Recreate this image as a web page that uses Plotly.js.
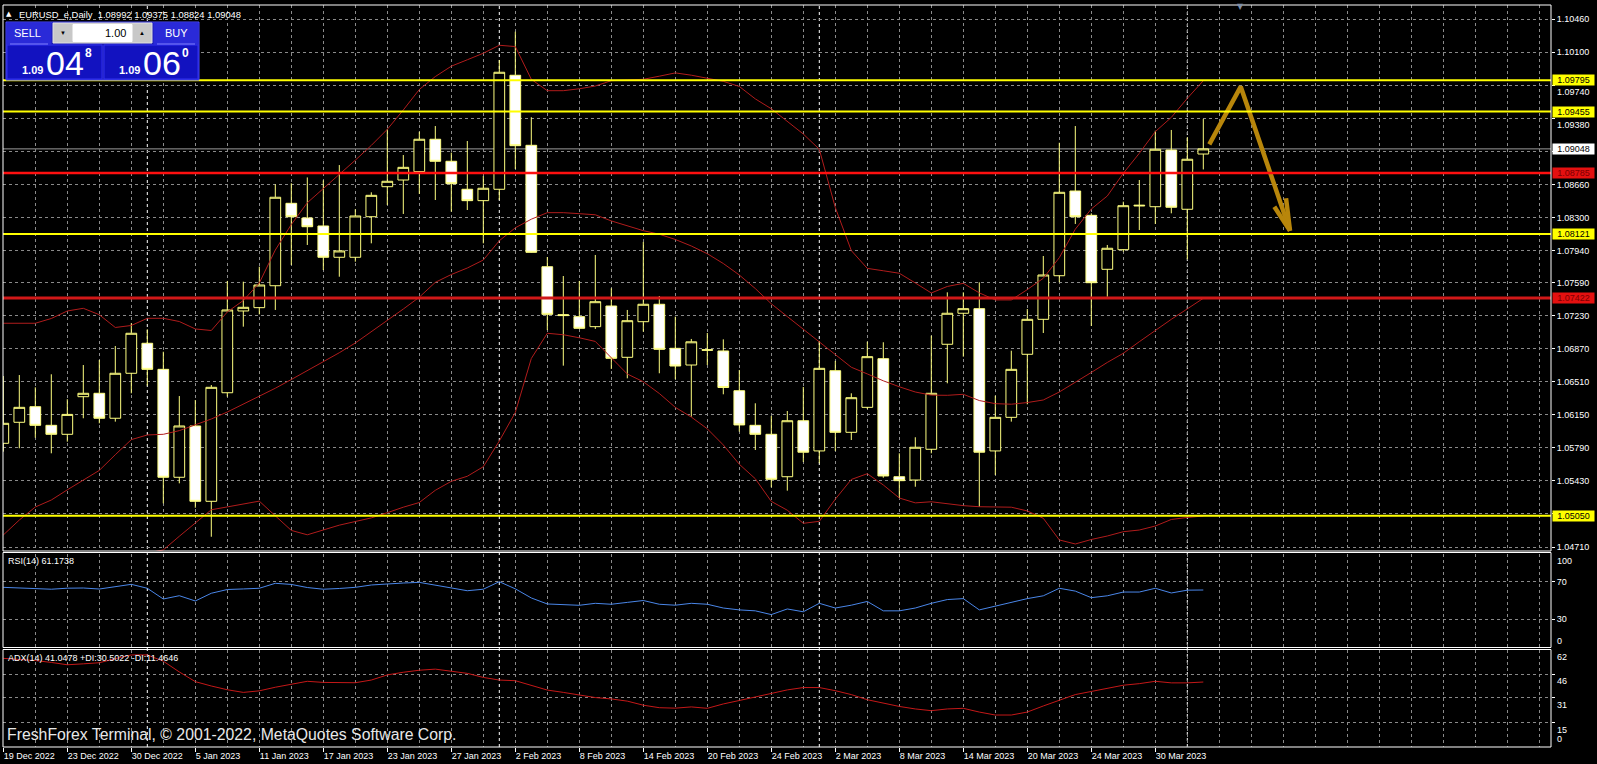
<!DOCTYPE html>
<html>
<head>
<meta charset="utf-8">
<script src="https://cdn.plot.ly/plotly-3.0.1.min.js"></script>
<style>
  html, body { margin: 0; padding: 0; background: #000; }
  #chart { width: 1597px; height: 764px; }
</style>
</head>
<body>
<div id="chart"></div>
<script>
// ---------------- DATA ----------------
const dates = [
  "19 Dec 2022","20 Dec 2022","21 Dec 2022","22 Dec 2022","23 Dec 2022","27 Dec 2022","28 Dec 2022","29 Dec 2022","30 Dec 2022",
  "2 Jan 2023","3 Jan 2023","4 Jan 2023","5 Jan 2023","6 Jan 2023","9 Jan 2023","10 Jan 2023","11 Jan 2023","12 Jan 2023","13 Jan 2023",
  "16 Jan 2023","17 Jan 2023","18 Jan 2023","19 Jan 2023","20 Jan 2023","23 Jan 2023","24 Jan 2023","25 Jan 2023","26 Jan 2023","27 Jan 2023",
  "30 Jan 2023","31 Jan 2023","1 Feb 2023","2 Feb 2023","3 Feb 2023","6 Feb 2023","7 Feb 2023","8 Feb 2023","9 Feb 2023","10 Feb 2023",
  "13 Feb 2023","14 Feb 2023","15 Feb 2023","16 Feb 2023","17 Feb 2023","20 Feb 2023","21 Feb 2023","22 Feb 2023","23 Feb 2023","24 Feb 2023",
  "27 Feb 2023","28 Feb 2023","1 Mar 2023","2 Mar 2023","3 Mar 2023","6 Mar 2023","7 Mar 2023","8 Mar 2023","9 Mar 2023","10 Mar 2023",
  "13 Mar 2023","14 Mar 2023","15 Mar 2023","16 Mar 2023","17 Mar 2023","20 Mar 2023","21 Mar 2023","22 Mar 2023","23 Mar 2023","24 Mar 2023",
  "27 Mar 2023","28 Mar 2023","29 Mar 2023","30 Mar 2023","31 Mar 2023","3 Apr 2023","4 Apr 2023"
];
const openP = [
  1.05840,1.06069,1.06239,1.06036,1.05938,1.06348,1.06385,1.06113,1.06603,1.06930,
  1.06646,1.05470,1.06029,1.05208,1.06391,1.07282,1.07318,1.07557,1.08455,1.08295,
  1.08208,1.07867,1.07867,1.08309,1.08636,1.08709,1.08800,1.09153,1.08913,1.08608,
  1.08484,1.08608,1.09850,1.09087,1.07764,1.07242,1.07220,1.07111,1.07336,1.06777,
  1.07165,1.07355,1.06875,1.06693,1.06860,1.06846,1.06413,1.06036,1.05938,1.05476,
  1.06086,1.05757,1.06631,1.05960,1.06232,1.06762,1.05476,1.05440,1.05775,1.06919,
  1.07257,1.07307,1.05757,1.06123,1.06810,1.07191,1.07666,1.08589,1.08324,1.07736,
  1.07950,1.08435,1.08418,1.09036,1.08390,1.08992
];
const highP = [
  1.06573,1.06584,1.06450,1.06592,1.06320,1.06693,1.06748,1.06900,1.07148,1.07082,
  1.06838,1.06355,1.06312,1.06475,1.07609,1.07601,1.07764,1.08662,1.08673,1.08737,
  1.08706,1.08872,1.08390,1.08575,1.09262,1.08981,1.09235,1.09297,1.09007,1.09134,
  1.08753,1.10017,1.10325,1.09393,1.07870,1.07663,1.07609,1.07892,1.07529,1.07293,
  1.08034,1.07445,1.07220,1.06977,1.07042,1.06973,1.06639,1.06276,1.06138,1.06192,
  1.06454,1.06955,1.06737,1.06385,1.06947,1.06941,1.05731,1.05906,1.07013,1.07485,
  1.07485,1.07594,1.06359,1.06849,1.07303,1.07881,1.09115,1.09297,1.08346,1.08001,
  1.08473,1.08709,1.09246,1.09254,1.09174,1.09375
];
const lowP = [
  1.05749,1.05786,1.05901,1.05731,1.05858,1.06113,1.06058,1.06076,1.06385,1.06468,
  1.05186,1.05404,1.05138,1.04822,1.06348,1.07111,1.07245,1.07293,1.07783,1.08001,
  1.07728,1.07655,1.07819,1.08019,1.08437,1.08339,1.08557,1.08491,1.08364,1.08382,
  1.08019,1.08491,1.08829,1.07917,1.07075,1.06686,1.07086,1.07086,1.06650,1.06548,
  1.07056,1.06603,1.06537,1.06130,1.06693,1.06374,1.05967,1.05767,1.05361,1.05324,
  1.05637,1.05623,1.05757,1.05876,1.06214,1.05465,1.05244,1.05367,1.05731,1.06494,
  1.06784,1.05149,1.05495,1.06076,1.06265,1.07042,1.07594,1.08230,1.07118,1.07437,
  1.07928,1.08164,1.08230,1.08346,1.07845,1.08824
];
const closeP = [
  1.06058,1.06232,1.06036,1.05938,1.06155,1.06385,1.06113,1.06603,1.07039,1.06646,
  1.05470,1.06029,1.05208,1.06450,1.07293,1.07322,1.07565,1.08521,1.08309,1.08200,
  1.07867,1.07936,1.08317,1.08542,1.08695,1.08847,1.09153,1.08913,1.08669,1.08484,
  1.08619,1.09883,1.09083,1.07921,1.07245,1.07232,1.07093,1.07383,1.06766,1.07176,
  1.07355,1.06864,1.06682,1.06946,1.06855,1.06448,1.06040,1.05938,1.05448,1.06086,
  1.05743,1.06657,1.05960,1.06337,1.06784,1.05484,1.05433,1.05797,1.06385,1.07257,
  1.07307,1.05743,1.06123,1.06646,1.07191,1.07674,1.08575,1.08309,1.07590,1.07965,
  1.08429,1.08428,1.09044,1.08412,1.08935,1.09048
];
const bbUpper = [
  1.07148,1.07148,1.07148,1.07200,1.07282,1.07311,1.07241,1.07102,1.07124,1.07202,
  1.07202,1.07167,1.07086,1.07069,1.07271,1.07396,1.07587,1.07946,1.08224,1.08461,
  1.08613,1.08768,1.08925,1.09086,1.09261,1.09472,1.09695,1.09836,1.09949,1.10019,
  1.10090,1.10177,1.10163,1.09806,1.09682,1.09682,1.09703,1.09733,1.09791,1.09799,
  1.09806,1.09840,1.09876,1.09851,1.09821,1.09784,1.09728,1.09593,1.09485,1.09352,
  1.09210,1.09044,1.08409,1.07940,1.07746,1.07720,1.07693,1.07587,1.07478,1.07549,
  1.07583,1.07479,1.07402,1.07402,1.07515,1.07638,1.07863,1.08173,1.08393,1.08535,
  1.08782,1.09000,1.09236,1.09391,1.09599,1.09791
];
const bbMiddle = [
  1.04841,1.05004,1.05146,1.05222,1.05333,1.05440,1.05545,1.05716,1.05880,1.05931,
  1.05938,1.05978,1.06043,1.06105,1.06181,1.06266,1.06350,1.06440,1.06535,1.06632,
  1.06730,1.06827,1.06933,1.07055,1.07176,1.07303,1.07432,1.07594,1.07679,1.07750,
  1.07837,1.08047,1.08188,1.08282,1.08353,1.08353,1.08342,1.08330,1.08263,1.08208,
  1.08157,1.08118,1.08061,1.07990,1.07906,1.07799,1.07674,1.07526,1.07360,1.07221,
  1.07081,1.06941,1.06801,1.06669,1.06596,1.06521,1.06456,1.06399,1.06365,1.06363,
  1.06374,1.06306,1.06272,1.06266,1.06284,1.06312,1.06399,1.06503,1.06612,1.06721,
  1.06821,1.06947,1.07074,1.07191,1.07305,1.07420
];
const bbLower = [
  1.02553,1.02880,1.03130,1.03261,1.03392,1.03566,1.03849,1.04329,1.04612,1.04645,
  1.04678,1.04827,1.04976,1.05116,1.05147,1.05179,1.05210,1.05050,1.04891,1.04843,
  1.04895,1.04948,1.04988,1.05027,1.05084,1.05144,1.05195,1.05328,1.05426,1.05481,
  1.05585,1.05865,1.06176,1.06764,1.07039,1.07023,1.06990,1.06950,1.06772,1.06595,
  1.06511,1.06383,1.06232,1.06126,1.05998,1.05822,1.05612,1.05454,1.05207,1.05111,
  1.04968,1.04990,1.05231,1.05446,1.05509,1.05386,1.05244,1.05191,1.05203,1.05179,
  1.05161,1.05149,1.05146,1.05144,1.05103,1.05023,1.04787,1.04743,1.04792,1.04830,
  1.04877,1.04895,1.04939,1.05010,1.05032,1.05048
];
const rsi14 = [
  64.0,63.3,62.4,62.0,63.1,63.3,62.2,64.8,67.2,63.0,
  51.6,55.1,49.5,57.7,61.7,62.3,63.0,68.3,67.1,63.8,
  62.0,62.8,64.0,66.5,67.7,68.6,69.3,66.5,63.7,60.4,
  62.0,70.0,62.4,52.7,46.3,45.4,44.9,47.0,46.0,48.0,
  50.0,46.0,45.0,47.0,46.0,42.0,40.0,39.0,35.0,41.0,
  38.0,47.0,42.0,45.0,49.0,39.0,39.0,42.0,47.0,51.0,
  52.0,40.0,44.0,48.0,52.0,55.0,63.0,60.0,53.0,55.0,
  59.0,59.0,63.0,58.0,61.0,61.17
];
const adx14 = [
  56.2,55.5,54.8,53.6,52.1,52.7,53.4,56.0,58.4,58.4,
  54.4,47.5,41.3,38.5,36.1,34.4,35.4,37.7,39.8,41.5,
  40.8,40.6,40.6,42.3,45.6,47.3,48.6,49.3,48.1,46.6,
  44.0,42.3,41.9,39.0,35.9,34.4,32.8,31.1,30.2,28.8,
  26.2,24.6,24.3,25.1,24.2,27.0,29.2,31.5,34.0,36.0,
  37.5,37.5,35.5,33.0,29.7,27.6,25.4,23.8,22.7,23.8,
  24.2,21.8,19.9,19.9,21.8,25.7,29.5,33.0,35.0,37.0,
  39.0,40.0,41.5,40.5,40.5,41.05
];
const yellowLevels = [1.09795, 1.09455, 1.08121, 1.05050];
const redLevels = [1.08785, 1.07422];
const priceTickVals = [1.10460,1.10100,1.09740,1.09380,1.09020,1.08660,1.08300,1.07940,1.07590,1.07230,1.06870,1.06510,1.06150,1.05790,1.05430,1.05070,1.04710];
const priceTickText = ["1.10460","1.10100","","","","1.08660","1.08300","1.07940","1.07590","1.07230","1.06870","1.06510","1.06150","1.05790","1.05430","","1.04710"];
// tick labels partly covered by level tags in the reference: drawn just below the tags
const coveredTickVals = [1.09740, 1.09380];
const rsiTickVals = [70, 30];
const adxLabelVals = [62, 46, 31, 15];
const adxGridVals = [46, 31, 15];
// hand-drawn forecast arrow (bar index, price)
const arrowX = [75.375, 77.34, 80.42];
const arrowY = [1.09098, 1.09726, 1.08157];
const arrowHeadLX = [79.44, 80.42], arrowHeadLY = [1.08418, 1.08157];
const arrowHeadRX = [80.17, 80.42], arrowHeadRY = [1.08510, 1.08157];
const headerText = "EURUSD_e,Daily  1.08992 1.09375 1.08824 1.09048";
const rsiText = "RSI(14) 61.1738";
const adxText = "ADX(14) 41.0478 +DI:30.5022 -DI:11.4646";

// ---------------- LAYOUT HELPERS ----------------
const W = 1597, H = 764;
const px = v => v / W;
const py = v => 1 - v / H;
const idx = dates.map((d, i) => i);
const FONT = 'Liberation Sans, Arial, sans-serif';

const X0 = 3, X1 = 1551;
const xDom = [px(X0), px(X1)];
const mainDom = [py(551), py(5)];
const rsiDom = [py(647.5), py(553.5)];
const adxDom = [py(747), py(649.5)];
const adxRange = [-0.58, 61.88];

const xTickVals = idx.filter(i => i % 4 === 0);
const xTickText = xTickVals.map(i => dates[i]);
const monthSep = idx.filter(i => i > 0 && dates[i].split(' ')[1] !== dates[i - 1].split(' ')[1]);

const gridCol = '#8a8a8a';
const candleCol = '#ffff80';

const traces = [
  { type: 'scatter', mode: 'lines', x: idx, y: bbUpper, line: { color: '#b01c1c', width: 1 }, hoverinfo: 'skip' },
  { type: 'scatter', mode: 'lines', x: idx, y: bbMiddle, line: { color: '#b01c1c', width: 1 }, hoverinfo: 'skip' },
  { type: 'scatter', mode: 'lines', x: idx, y: bbLower, line: { color: '#b01c1c', width: 1 }, hoverinfo: 'skip' },
  {
    type: 'candlestick', x: idx, open: openP, high: highP, low: lowP, close: closeP,
    increasing: { line: { color: candleCol, width: 1 }, fillcolor: '#000000' },
    decreasing: { line: { color: candleCol, width: 1 }, fillcolor: '#ffffff' },
    whiskerwidth: 0, hoverinfo: 'skip'
  },
  { type: 'scatter', mode: 'lines', x: arrowX, y: arrowY, line: { color: '#b8860b', width: 4.5 }, hoverinfo: 'skip' },
  { type: 'scatter', mode: 'lines', x: arrowHeadLX, y: arrowHeadLY, line: { color: '#b8860b', width: 4.5 }, hoverinfo: 'skip' },
  { type: 'scatter', mode: 'lines', x: arrowHeadRX, y: arrowHeadRY, line: { color: '#b8860b', width: 4.5 }, hoverinfo: 'skip' },
  { type: 'scatter', mode: 'lines', x: idx, y: rsi14, yaxis: 'y2', line: { color: '#4a86e8', width: 1 }, hoverinfo: 'skip' },
  { type: 'scatter', mode: 'lines', x: idx, y: adx14, yaxis: 'y3', line: { color: '#c41818', width: 1 }, hoverinfo: 'skip' }
];

const shapes = [];
const annotations = [];

yellowLevels.forEach(p => shapes.push({ type: 'line', xref: 'paper', yref: 'y', x0: xDom[0], x1: xDom[1], y0: p, y1: p, line: { color: '#ffff00', width: 2 }, layer: 'above' }));
shapes.push({ type: 'line', xref: 'paper', yref: 'y', x0: xDom[0], x1: xDom[1], y0: redLevels[0], y1: redLevels[0], line: { color: '#ff1010', width: 2.5 }, layer: 'above' });
shapes.push({ type: 'line', xref: 'paper', yref: 'y', x0: xDom[0], x1: xDom[1], y0: redLevels[1], y1: redLevels[1], line: { color: '#d01818', width: 3 }, layer: 'above' });
const bid = closeP[closeP.length - 1];
shapes.push({ type: 'line', xref: 'paper', yref: 'y', x0: xDom[0], x1: xDom[1], y0: bid, y1: bid, line: { color: '#9a9a9a', width: 1 }, layer: 'below' });

monthSep.forEach(i => shapes.push({ type: 'line', xref: 'x', yref: 'paper', x0: i, x1: i, y0: adxDom[0], y1: mainDom[1], line: { color: '#ffffff', width: 1, dash: '3px,3px' }, layer: 'below' }));

[[5, 551], [552.5, 647.5], [649.5, 747]].forEach(([t, b]) => shapes.push({
  type: 'rect', xref: 'paper', yref: 'paper', x0: px(X0), x1: px(X1), y0: py(b), y1: py(t),
  line: { color: '#ffffff', width: 1 }, fillcolor: 'rgba(0,0,0,0)', layer: 'above'
}));

function priceLabel(p, bg, fg) {
  annotations.push({ xref: 'paper', yref: 'y', x: px(1552), xanchor: 'left', y: p, yanchor: 'middle',
    text: p.toFixed(5), showarrow: false, bgcolor: bg, font: { family: FONT, size: 9, color: fg },
    width: 40, height: 9, borderpad: 0.5, align: 'center' });
}
yellowLevels.forEach(p => priceLabel(p, '#ffff00', '#000000'));
redLevels.forEach(p => priceLabel(p, '#e41010', '#7a0000'));
priceLabel(bid, '#ffffff', '#000000');

coveredTickVals.forEach(v => annotations.push({ xref: 'paper', yref: 'y', x: px(1556), xanchor: 'left', y: v, yanchor: 'top', yshift: -0.5,
  text: v.toFixed(5), showarrow: false, borderpad: 0, font: { family: FONT, size: 9, color: '#ffffff' } }));

annotations.push({ xref: 'paper', yref: 'y2', x: px(1555), xanchor: 'left', y: 100, yanchor: 'top', text: '100', showarrow: false, font: { family: FONT, size: 9, color: '#ffffff' } });
annotations.push({ xref: 'paper', yref: 'y2', x: px(1555), xanchor: 'left', y: 0, yanchor: 'bottom', text: '0', showarrow: false, font: { family: FONT, size: 9, color: '#ffffff' } });
adxLabelVals.forEach(v => annotations.push({ xref: 'paper', yref: 'y3', x: px(1555), xanchor: 'left', y: Math.min(v, adxRange[1] - 0.05), yanchor: 'top', text: String(v), showarrow: false, font: { family: FONT, size: 9, color: '#ffffff' } }));
annotations.push({ xref: 'paper', yref: 'y3', x: px(1555), xanchor: 'left', y: 0, yanchor: 'bottom', text: '0', showarrow: false, font: { family: FONT, size: 9, color: '#ffffff' } });

annotations.push({ xref: 'paper', yref: 'paper', x: px(6), y: py(561), xanchor: 'left', yanchor: 'middle', text: rsiText, showarrow: false, font: { family: FONT, size: 9, color: '#ffffff' } });
annotations.push({ xref: 'paper', yref: 'paper', x: px(6), y: py(658), xanchor: 'left', yanchor: 'middle', text: adxText, showarrow: false, font: { family: FONT, size: 9, color: '#ffffff' } });
annotations.push({ xref: 'paper', yref: 'paper', x: px(4), y: py(14), xanchor: 'left', yanchor: 'middle', text: '▲', showarrow: false, font: { family: 'DejaVu Sans, sans-serif', size: 7, color: '#ffffff' } });
annotations.push({ xref: 'paper', yref: 'paper', x: px(17), y: py(14), xanchor: 'left', yanchor: 'middle', text: headerText, showarrow: false, font: { family: FONT, size: 9.4, color: '#ffffff' } });
annotations.push({ xref: 'paper', yref: 'paper', x: px(5), y: py(734), xanchor: 'left', yanchor: 'middle', text: 'FreshForex Terminal, © 2001-2022, MetaQuotes Software Corp.', showarrow: false, font: { family: FONT, size: 15.8, color: '#e8e8e8' } });
annotations.push({ xref: 'paper', yref: 'paper', x: px(1240), y: py(7), xanchor: 'center', yanchor: 'middle', text: '▼', showarrow: false, font: { family: 'DejaVu Sans, sans-serif', size: 8, color: '#8090a8' } });

function rectPx(x0, y0, x1, y1, fill, line) {
  shapes.push({ type: 'rect', xref: 'paper', yref: 'paper', x0: px(x0), x1: px(x1), y0: py(y1), y1: py(y0),
    fillcolor: fill, line: { color: line || fill, width: 1 }, layer: 'above' });
}
function textPx(x, y, t, size, color, anchor, bold) {
  annotations.push({ xref: 'paper', yref: 'paper', x: px(x), y: py(y), xanchor: anchor || 'center', yanchor: 'middle',
    text: bold ? '<b>' + t + '</b>' : t, showarrow: false, font: { family: FONT, size: size, color: color } });
}
rectPx(6, 22, 199, 80, '#1c1cb4', '#4a4aff');
rectPx(7, 23, 51, 44, '#2a2ad8', '#2a2ad8');
rectPx(154, 23, 198, 44, '#2a2ad8', '#2a2ad8');
rectPx(53, 23, 152, 43, '#c8c8c8', '#e0e0e0');
rectPx(73, 24.5, 132, 41.5, '#ffffff', '#ffffff');
rectPx(7, 45, 102, 79, '#1212c0', '#3030f0');
rectPx(104, 45, 198, 79, '#1212c0', '#3030f0');
shapes.push({ type: 'line', xref: 'paper', yref: 'paper', x0: px(10), x1: px(48), y0: py(44), y1: py(44), line: { color: '#8080ff', width: 1 }, layer: 'above' });
shapes.push({ type: 'line', xref: 'paper', yref: 'paper', x0: px(157), x1: px(195), y0: py(44), y1: py(44), line: { color: '#8080ff', width: 1 }, layer: 'above' });
textPx(28, 33, 'SELL', 11, '#ffffff');
textPx(176, 33, 'BUY', 11, '#ffffff');
textPx(63, 33, '▼', 6, '#000000');
textPx(142, 33, '▲', 6, '#000000');
textPx(128, 33, '1.00', 11, '#000000', 'right');
textPx(32, 69.5, '1.09', 11, '#ffffff', 'center', true);
textPx(65, 63, '04', 34, '#ffffff');
textPx(88, 53.5, '8', 12, '#ffffff', 'center', true);
textPx(129, 69.5, '1.09', 11, '#ffffff', 'center', true);
textPx(162, 63, '06', 34, '#ffffff');
textPx(185, 53.5, '0', 12, '#ffffff', 'center', true);

const axisFont = { family: FONT, size: 9, color: '#ffffff' };
const layout = {
  width: W, height: H,
  paper_bgcolor: '#000000', plot_bgcolor: '#000000',
  margin: { l: 0, r: 0, t: 0, b: 0 },
  showlegend: false, hovermode: false,
  boxgap: 0.33, boxgroupgap: 0,
  font: { family: FONT, size: 9, color: '#ffffff' },
  xaxis: {
    domain: xDom, range: [(X0 - 3.3) / 16, (X1 - 3.3) / 16], anchor: 'y3',
    tickmode: 'array', tickvals: xTickVals, ticktext: xTickText,
    ticks: 'outside', ticklen: 4, tickcolor: '#ffffff', tickfont: axisFont,
    ticklabelposition: 'outside right',
    showgrid: true, gridcolor: gridCol, griddash: '3px,3px', gridwidth: 1,
    minor: { tickmode: 'linear', tick0: 0, dtick: 2, showgrid: true, gridcolor: gridCol, griddash: '3px,3px', gridwidth: 1, ticks: '' },
    zeroline: false, showline: false, rangeslider: { visible: false }, fixedrange: true
  },
  yaxis: {
    domain: mainDom, range: [1.046666, 1.106158], anchor: 'x', side: 'right',
    tickmode: 'array', tickvals: priceTickVals, ticktext: priceTickText,
    ticks: 'outside', ticklen: 3, tickcolor: '#ffffff', tickfont: axisFont,
    showgrid: true, gridcolor: gridCol, griddash: '3px,3px', gridwidth: 1,
    zeroline: false, showline: false, fixedrange: true
  },
  yaxis2: {
    domain: rsiDom, range: [0, 100], anchor: 'x', side: 'right',
    tickmode: 'array', tickvals: rsiTickVals, ticktext: rsiTickVals.map(String),
    ticks: 'outside', ticklen: 3, tickcolor: '#ffffff', tickfont: axisFont,
    showgrid: true, gridcolor: gridCol, griddash: '3px,3px', gridwidth: 1,
    zeroline: false, showline: false, fixedrange: true
  },
  yaxis3: {
    domain: adxDom, range: adxRange, anchor: 'x', side: 'right',
    tickmode: 'array', tickvals: adxGridVals, ticktext: adxGridVals.map(() => ''),
    ticks: 'outside', ticklen: 3, tickcolor: '#ffffff', tickfont: axisFont,
    showgrid: true, gridcolor: gridCol, griddash: '3px,3px', gridwidth: 1,
    zeroline: false, showline: false, fixedrange: true
  },
  shapes: shapes,
  annotations: annotations
};

Plotly.newPlot('chart', traces, layout, { staticPlot: true, displayModeBar: false });
</script>
</body>
</html>
